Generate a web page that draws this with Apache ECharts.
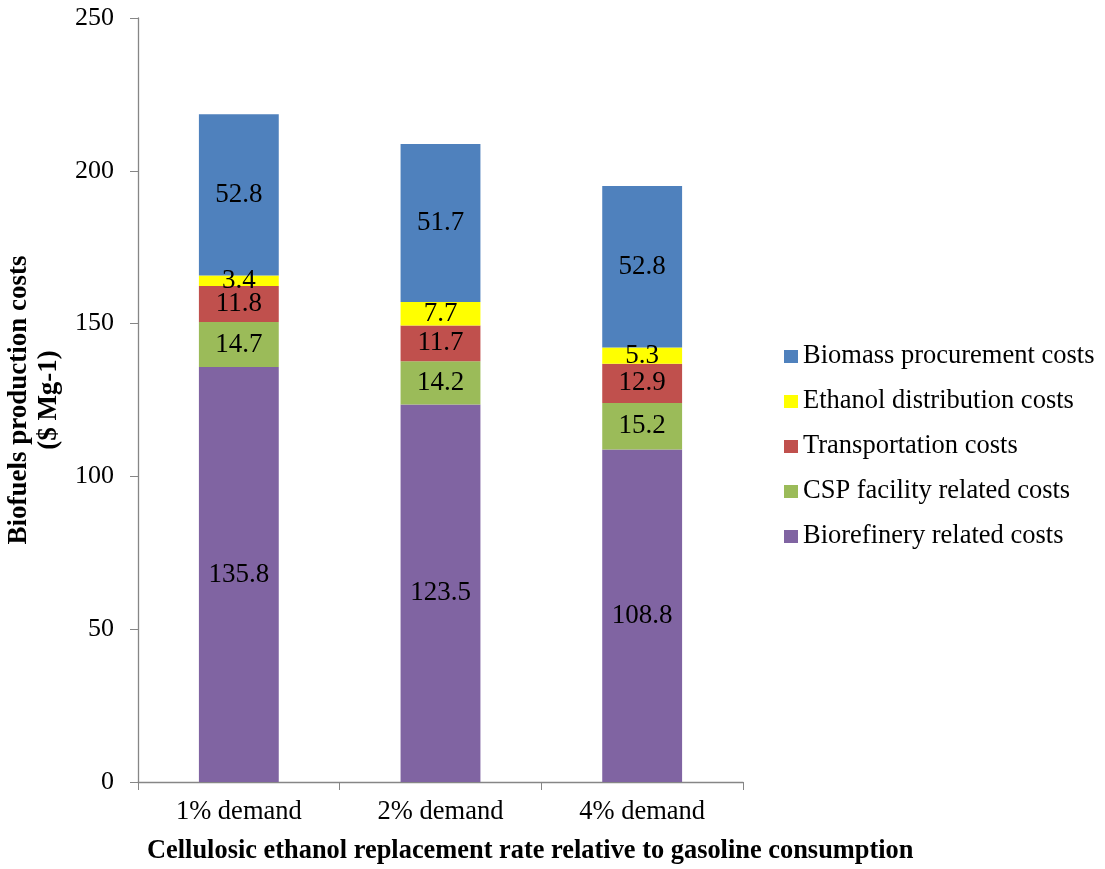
<!DOCTYPE html>
<html>
<head>
<meta charset="utf-8">
<script src="https://cdn.jsdelivr.net/npm/echarts@6/dist/echarts.min.js"></script>
<style>
  html, body { margin: 0; padding: 0; background: #fff; }
  #chart { width: 1105px; height: 869px; }
</style>
</head>
<body>
<div id="chart"></div>
<script>
// Demand scenarios on the x axis
const categories = ['1% demand', '2% demand', '4% demand'];

// Cost components ($ Mg-1), stacked from bottom to top
const biorefinery = [135.8, 123.5, 108.8];
const cspFacility = [14.7, 14.2, 15.2];
const transportation = [11.8, 11.7, 12.9];
const ethanolDistribution = [3.4, 7.7, 5.3];
const biomassProcurement = [52.8, 51.7, 52.8];

const yTicks = { min: 0, max: 250, interval: 50 };

const FONT = '"Liberation Serif", "Times New Roman", serif';
const FS = 26.5;

const seriesDefs = [
  { name: 'Biorefinery related costs', data: biorefinery, color: '#8064A2' },
  { name: 'CSP facility related costs', data: cspFacility, color: '#9BBB59' },
  { name: 'Transportation costs', data: transportation, color: '#C0504D' },
  { name: 'Ethanol distribution costs', data: ethanolDistribution, color: '#FFFF00' },
  { name: 'Biomass procurement costs', data: biomassProcurement, color: '#4F81BD' }
];

const chart = echarts.init(document.getElementById('chart'), null, { renderer: 'canvas' });

chart.setOption({
  animation: false,
  backgroundColor: '#ffffff',
  textStyle: { fontFamily: FONT },
  title: {
    text: 'Cellulosic ethanol replacement rate relative to gasoline consumption',
    left: 147,
    top: 838,
    padding: 0,
    textStyle: { fontFamily: FONT, fontSize: 26.4, fontWeight: 'bold', color: '#000' }
  },
  grid: { left: 138, right: 362, top: 18, bottom: 87, containLabel: false, outerBoundsMode: 'none' },
  legend: {
    orient: 'vertical',
    left: 784,
    top: 343,
    padding: 0,
    itemWidth: 14,
    itemHeight: 13,
    itemGap: 18,
    icon: 'rect',
    data: [
      'Biomass procurement costs',
      'Ethanol distribution costs',
      'Transportation costs',
      'CSP facility related costs',
      'Biorefinery related costs'
    ],
    textStyle: { fontFamily: FONT, fontSize: FS, color: '#000', padding: [0, 0, 0, 0] }
  },
  xAxis: {
    type: 'category',
    data: categories,
    axisLine: { lineStyle: { color: '#868686', width: 1.3 } },
    axisTick: { show: true, length: 8, alignWithLabel: false, lineStyle: { color: '#868686' } },
    axisLabel: { fontFamily: FONT, fontSize: FS, color: '#000', margin: 17 }
  },
  yAxis: {
    type: 'value',
    min: yTicks.min,
    max: yTicks.max,
    interval: yTicks.interval,
    name: 'Biofuels production costs\n($ Mg-1)',
    nameLocation: 'middle',
    nameGap: 74,
    nameTextStyle: { fontFamily: FONT, fontSize: 27, fontWeight: 'bold', color: '#000', lineHeight: 30 },
    axisLine: { show: true, lineStyle: { color: '#868686', width: 1.3 } },
    axisTick: { show: true, length: 8, lineStyle: { color: '#868686' } },
    splitLine: { show: false },
    axisLabel: { fontFamily: FONT, fontSize: 26, color: '#000', margin: 24 }
  },
  series: seriesDefs.map(s => ({
    name: s.name,
    type: 'bar',
    stack: 'total',
    data: s.data,
    barWidth: '39.6%',
    itemStyle: { color: s.color },
    label: {
      show: true,
      position: 'inside',
      fontFamily: FONT,
      fontSize: 27,
      color: '#000',
      formatter: p => p.value.toFixed(1)
    }
  }))
});
</script>
</body>
</html>
